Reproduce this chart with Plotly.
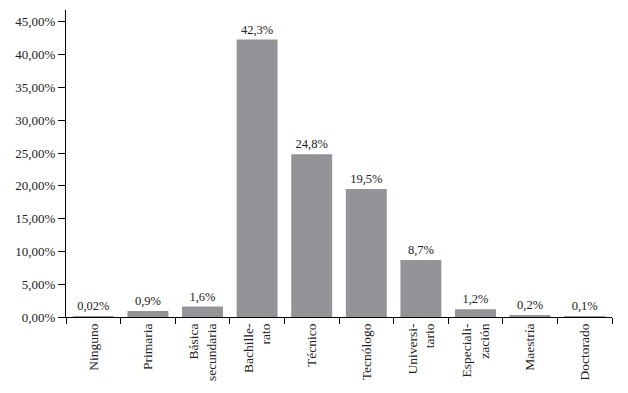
import plotly.graph_objects as go

categories = ["Ninguno", "Primaria", "Básica<br>secundaria", "Bachille-<br>rato", "Técnico",
              "Tecnólogo", "Universi-<br>tario", "Especiali-<br>zación", "Maestría", "Doctorado"]
values = [0.02, 0.9, 1.6, 42.3, 24.8, 19.5, 8.7, 1.2, 0.2, 0.1]
labels = ["0,02%", "0,9%", "1,6%", "42,3%", "24,8%", "19,5%", "8,7%", "1,2%", "0,2%", "0,1%"]
ytick_vals = [0, 5, 10, 15, 20, 25, 30, 35, 40, 45]
ytick_text = ["0,00%", "5,00%", "10,00%", "15,00%", "20,00%", "25,00%", "30,00%", "35,00%", "40,00%", "45,00%"]

font_family = "Liberation Serif, DejaVu Serif, serif"

fig = go.Figure(go.Bar(
    x=categories, y=values, text=labels, textposition="outside",
    marker=dict(color="#939497", line=dict(width=0)),
    textfont=dict(family=font_family, size=12.5, color="#222222"),
    cliponaxis=False,
))

fig.update_layout(
    width=620, height=385,
    margin=dict(l=58, r=16, t=2, b=76, autoexpand=False),
    plot_bgcolor="white", paper_bgcolor="white",
    bargap=0.25,
    showlegend=False,
    font=dict(family=font_family, size=13, color="#222222"),
)
fig.update_xaxes(
    type="category", tickangle=-90, tickson="boundaries",
    ticks="outside", ticklen=6, tickcolor="black",
    showline=True, linecolor="black", linewidth=1,
    showgrid=False, automargin=False,
    tickfont=dict(family=font_family, size=13.5, color="#222222"),
)
fig.update_yaxes(
    range=[0, 46.8], tickvals=ytick_vals, ticktext=ytick_text,
    ticks="outside", ticklen=7, tickcolor="black",
    showline=True, linecolor="black", linewidth=1,
    showgrid=False, zeroline=False, automargin=False,
    tickfont=dict(family=font_family, size=13, color="#222222"),
)

fig.write_html("out.html")
